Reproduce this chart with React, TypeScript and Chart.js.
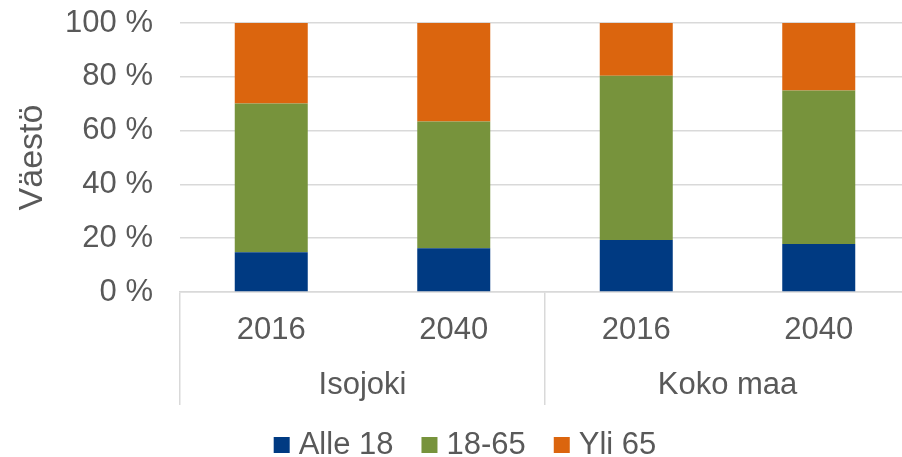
import React, { useEffect, useRef } from "react";
import { Chart, registerables } from "chart.js";

Chart.register(...registerables);

// ---- data ----
const years = ["2016", "2040", "2016", "2040"];
const groups = ["Isojoki", "Koko maa"];
const seriesNames = ["Alle 18", "18-65", "Yli 65"];
const alle18 = [14.8, 16.3, 19.3, 17.8];
const age18to65 = [55.3, 47.1, 61.1, 57.1];
const yli65 = [29.9, 36.6, 19.6, 25.1];
const yTicks = [0, 20, 40, 60, 80, 100];
const yTitle = "Väestö";
const seriesColors = ["#003A82", "#77933C", "#DB650E"];

const FONT = "'Liberation Sans', Arial, sans-serif";
const TEXT = "#595959";
const GRID = "#d9d9d9";
const W = 930;
const H = 457;

const legendPlugin = {
  id: "customLegend",
  afterDraw(chart: any) {
    const ctx = chart.ctx as CanvasRenderingContext2D;
    ctx.save();
    ctx.font = `31px ${FONT}`;
    const box = 16;
    const gapText = 9;
    const gapItem = 28;
    const items = chart.data.datasets.map((d: any) => ({
      label: d.label as string,
      color: d.backgroundColor as string,
      w: ctx.measureText(d.label).width,
    }));
    const total =
      items.reduce((s: number, it: any) => s + box + gapText + it.w, 0) +
      gapItem * (items.length - 1);
    let x = chart.width / 2 - total / 2;
    items.forEach((it: any) => {
      ctx.fillStyle = it.color;
      ctx.fillRect(x, 437, box, box);
      x += box + gapText;
      ctx.fillStyle = TEXT;
      ctx.textAlign = "left";
      ctx.textBaseline = "alphabetic";
      ctx.fillText(it.label, x, 454);
      x += it.w + gapItem;
    });
    ctx.restore();
  },
};

export default function App() {
  const ref = useRef<HTMLCanvasElement>(null);

  useEffect(() => {
    if (!ref.current) return;
    Chart.defaults.font.family = FONT;
    Chart.defaults.color = TEXT;
    const chart = new Chart(ref.current, {
      type: "bar",
      data: {
        labels: years,
        datasets: [
          { label: seriesNames[0], data: alle18, backgroundColor: seriesColors[0] },
          { label: seriesNames[1], data: age18to65, backgroundColor: seriesColors[1] },
          { label: seriesNames[2], data: yli65, backgroundColor: seriesColors[2] },
        ],
      },
      options: {
        animation: false,
        responsive: false,
        maintainAspectRatio: false,
        datasets: {
          bar: { barPercentage: 0.4, categoryPercentage: 1 },
        },
        layout: { padding: { top: 23, right: 20, bottom: 51, left: 0 } },
        plugins: {
          legend: { display: false },
          tooltip: { enabled: false },
        },
        scales: {
          x: {
            type: "category",
            position: "bottom",
            stacked: true,
            offset: true,
            weight: 0,
            grid: {
              drawOnChartArea: false,
              offset: true,
              tickLength: 113,
              lineWidth: 1.5,
              color: (c: any) => (c.index % 2 === 0 ? GRID : "rgba(0,0,0,0)"),
            },
            border: { display: true, color: GRID, width: 1.5 },
            ticks: {
              font: { size: 31, family: FONT },
              color: TEXT,
              padding: -93,
              maxRotation: 0,
              minRotation: 0,
              autoSkip: false,
            },
            afterFit: (s: any) => {
              s.height = 58;
            },
          },
          x2: {
            type: "category",
            position: "bottom",
            labels: groups,
            offset: true,
            weight: 1,
            grid: { display: false, drawTicks: false, drawOnChartArea: false },
            border: { display: false },
            ticks: {
              font: { size: 31, family: FONT },
              color: TEXT,
              padding: 17,
              maxRotation: 0,
              minRotation: 0,
              autoSkip: false,
            },
            afterFit: (s: any) => {
              s.height = 56;
            },
          },
          y: {
            stacked: true,
            min: 0,
            max: 100,
            grid: { color: GRID, lineWidth: 1.5, drawTicks: false },
            border: { display: false },
            afterBuildTicks: (s: any) => {
              s.ticks = yTicks.map((v) => ({ value: v }));
            },
            ticks: {
              font: { size: 31, family: FONT },
              color: TEXT,
              padding: 27,
              callback: (v: any) => `${v} %`,
            },
            title: {
              display: true,
              text: yTitle,
              color: TEXT,
              font: { size: 34, family: FONT, weight: "normal" },
              padding: { top: 12, bottom: 0 },
            },
            afterFit: (s: any) => {
              s.width = 180;
              s.paddingTop = 0;
              s.paddingBottom = 0;
            },
          },
        },
      },
      plugins: [legendPlugin],
    } as any);
    return () => chart.destroy();
  }, []);

  return (
    <div
      style={{
        position: "fixed",
        left: 0,
        top: 0,
        width: 902,
        height: H,
        overflow: "hidden",
        background: "#ffffff",
      }}
    >
      <canvas
        ref={ref}
        width={W}
        height={H}
        style={{ width: W, height: H, display: "block" }}
      />
    </div>
  );
}
